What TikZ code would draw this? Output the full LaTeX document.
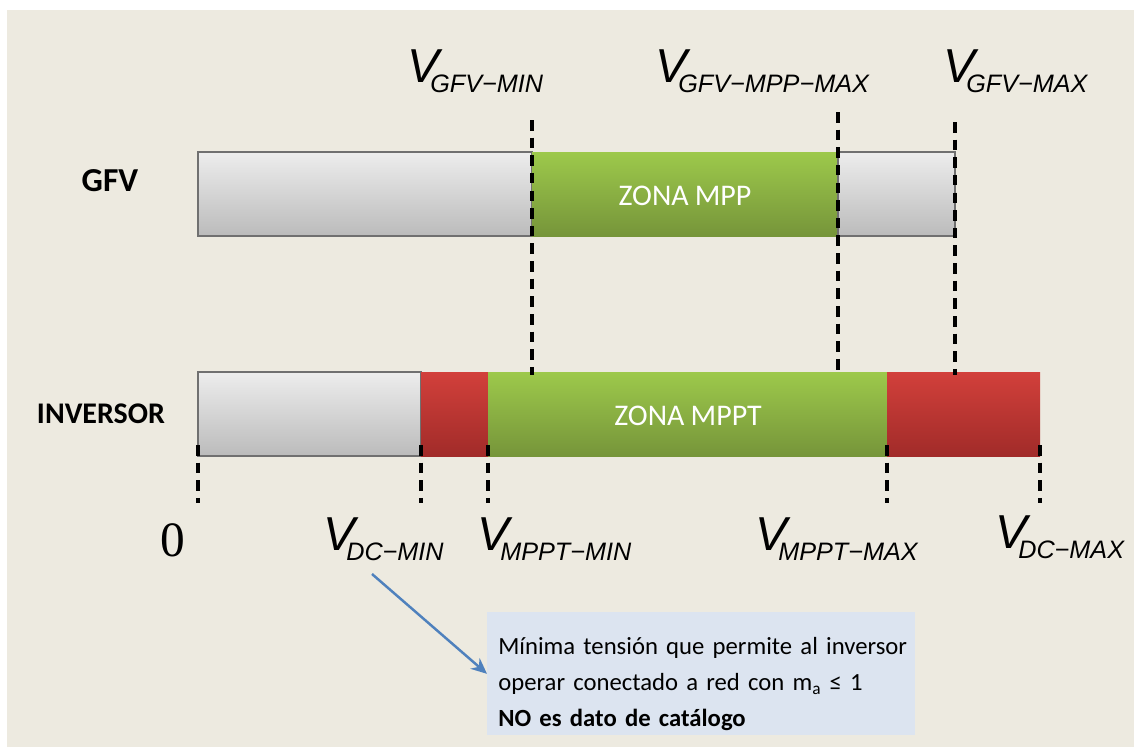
\documentclass[tikz,border=0pt]{standalone}
\usepackage{fontspec}
\setmainfont{Carlito}[WordSpace=0.9]
\newfontfamily\lblfont{Liberation Sans}
\newfontfamily\cerofont{Liberation Serif}
\usetikzlibrary{arrows.meta}
\definecolor{fondo}{HTML}{EDEAE0}
\definecolor{grisA}{HTML}{EDEDED}
\definecolor{grisB}{HTML}{BBBBBB}
\definecolor{grisBorde}{HTML}{707070}
\definecolor{verdeA}{HTML}{9DC94B}
\definecolor{verdeB}{HTML}{76953A}
\definecolor{rojoA}{HTML}{D2403B}
\definecolor{rojoB}{HTML}{A12B29}
\definecolor{notaFondo}{HTML}{DCE4F0}
\definecolor{flecha}{HTML}{4F81BD}
\newcommand{\tens}[1]{{\lblfont\itshape\fontsize{27}{28}\selectfont V\kern-5pt\raisebox{-6.2pt}{\fontsize{14.3}{15}\selectfont #1}}}
\begin{document}
\begin{tikzpicture}[x=0.567pt,y=-0.567pt,
  gris/.style={top color=grisA, bottom color=grisB, draw=grisBorde, line width=1pt},
  verde/.style={top color=verdeA, bottom color=verdeB},
  rojo/.style={top color=rojoA, bottom color=rojoB},
  guia/.style={line width=1.9pt, dash pattern=on 6pt off 4pt},
  etq/.style={inner sep=0pt, anchor=base west},
  zona/.style={text=white, font=\fontsize{17}{18}\selectfont},
  fila/.style={font=\bfseries\fontsize{#1}{#1}\selectfont},
  ]
  \useasboundingbox (0,0) rectangle (1134,747);
  \fill[white] (0,0) rectangle (1134,747);
  \fill[fondo] (7,10) rectangle (1134,747);
  % barra GFV
  \shade[gris] (198,152) rectangle (532,236);
  \shade[verde] (532,152) rectangle (838,236);
  \shade[gris] (838,152) rectangle (955,236);
  \node[zona] (zmpp) at (685,196) {ZONA MPP};
  % barra inversor
  \shade[gris] (198,372) rectangle (421,456);
  \shade[rojo] (421,372) rectangle (488,456);
  \shade[verde] (488,372) rectangle (887,456);
  \shade[rojo] (887,372) rectangle (1040,456);
  \node[zona] (zmppt) at (688,416) {ZONA MPPT};
  \node[fila=19] (gfv) at (110,181) {GFV};
  \node[fila=17] (inv) at (101,414) {INVERSOR};
  % guias
  \foreach \x/\y in {532/120, 838/112, 955/122}
    \draw[guia] (\x,\y) -- (\x,375);
  \foreach \x in {198, 421, 488, 887, 1040}
    \draw[guia] (\x,445) -- (\x,503);
  % tensiones
  \node[etq] (gfvmin) at (407,82) {\tens{GFV−MIN}};
  \node[etq] (gfvmpp) at (655,82) {\tens{GFV−MPP−MAX}};
  \node[etq] (gfvmax) at (943,82) {\tens{GFV−MAX}};
  \node (cero) at (173,540) {\cerofont\fontsize{28}{28}\selectfont 0};
  \node[etq] (dcmin) at (323,550) {\tens{DC−MIN}};
  \node[etq] (mpptmin) at (477,550) {\tens{MPPT−MIN}};
  \node[etq] (mpptmax) at (755,550) {\tens{MPPT−MAX}};
  \node[etq] (dcmax) at (995,548) {\tens{DC−MAX}};
  % nota
  \node[fill=notaFondo, anchor=north west, minimum width=242.7pt, minimum height=69.7pt,
    text width=230.3pt, inner xsep=6.2pt, inner ysep=0pt, align=left, font=\fontsize{14}{20.4}\selectfont]
    (nota) at (487,612) {\rule{0pt}{21pt}\mbox{Mínima tensión que permite al inversor}\\
    \mbox{operar conectado a red con m\textsubscript{a} ≤ 1}\\
    \mbox{\textbf{NO es dato de catálogo}}};
  \coordinate (arrS) at (372,574);
  \draw[flecha, line width=1.4pt, -{Stealth[length=9pt,width=8pt]}] (arrS) -- (nota.west);
\end{tikzpicture}
\end{document}
